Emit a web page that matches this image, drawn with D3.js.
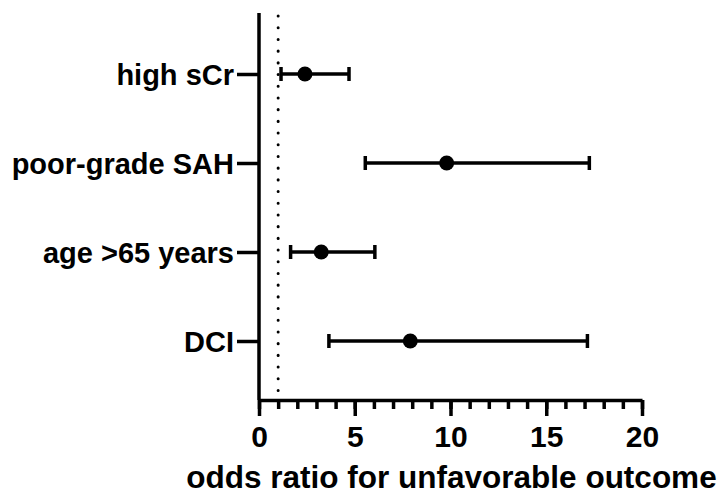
<!DOCTYPE html>
<html>
<head>
<meta charset="utf-8">
<script src="https://cdn.jsdelivr.net/npm/d3@7"></script>
<style>
  body { margin: 0; background: #fff; }
  svg { display: block; }
  text { font-family: "Liberation Sans", Arial, sans-serif; font-weight: bold; fill: #000; }
</style>
</head>
<body>
<div id="chart"></div>
<script>
// odds ratios with 95% CI
var factors = ["high sCr", "poor-grade SAH", "age >65 years", "DCI"];
var oddsRatio = [2.4, 9.8, 3.25, 7.9];
var ciLow = [1.15, 5.55, 1.65, 3.65];
var ciHigh = [4.7, 17.25, 6.05, 17.15];
var majorTicks = [0, 5, 10, 15, 20];
var minorTicks = d3.range(0, 21);
var refLine = 1;

var width = 721, height = 499;
var margin = {top: 13, right: 79, bottom: 100, left: 259};

var svg = d3.select("#chart").append("svg")
    .attr("width", width)
    .attr("height", height);

var x = d3.scaleLinear()
    .domain([0, 20])
    .range([margin.left, width - margin.right]);

var y = d3.scalePoint()
    .domain(factors)
    .range([74, 341]);

var axisY = height - margin.bottom + 1;

// dotted reference line at OR = 1
svg.append("line")
    .attr("x1", x(refLine)).attr("x2", x(refLine))
    .attr("y1", margin.top + 3).attr("y2", axisY)
    .attr("stroke", "#000")
    .attr("stroke-width", 3)
    .attr("stroke-linecap", "round")
    .attr("stroke-dasharray", "0.1,11.6");

// minor ticks
svg.append("g")
    .attr("transform", "translate(0," + axisY + ")")
    .call(d3.axisBottom(x).tickValues(minorTicks).tickSize(9).tickSizeOuter(0).tickFormat(""))
    .call(g => g.select(".domain").remove())
    .call(g => g.selectAll("line").attr("stroke-width", 3.5));

// major ticks + labels
svg.append("g")
    .attr("transform", "translate(0," + axisY + ")")
    .call(d3.axisBottom(x).tickValues(majorTicks).tickSize(16).tickSizeOuter(0).tickPadding(8))
    .call(g => g.select(".domain").attr("stroke-width", 3.5))
    .call(g => g.selectAll("line").attr("stroke-width", 3.5))
    .call(g => g.selectAll("text").attr("font-size", 30).attr("dy", "0.75em"));

// y axis
svg.append("g")
    .attr("transform", "translate(" + margin.left + ",0)")
    .call(d3.axisLeft(y).tickSize(22).tickSizeOuter(0).tickPadding(3))
    .call(g => g.select(".domain").attr("d", "M0," + margin.top + "V" + axisY).attr("stroke-width", 3.5))
    .call(g => g.selectAll("line").attr("stroke-width", 3.5))
    .call(g => g.selectAll("text").attr("font-size", 29).attr("dy", "0.35em"));

// error bars
var rows = factors.map((f, i) => ({f: f, or: oddsRatio[i], lo: ciLow[i], hi: ciHigh[i]}));

var bars = svg.append("g").selectAll("g")
    .data(rows)
    .enter().append("g");

bars.append("line")
    .attr("x1", d => x(d.lo)).attr("x2", d => x(d.hi))
    .attr("y1", d => y(d.f)).attr("y2", d => y(d.f))
    .attr("stroke", "#000").attr("stroke-width", 3.5);

bars.append("line")
    .attr("x1", d => x(d.lo)).attr("x2", d => x(d.lo))
    .attr("y1", d => y(d.f) - 7).attr("y2", d => y(d.f) + 7)
    .attr("stroke", "#000").attr("stroke-width", 3.5);

bars.append("line")
    .attr("x1", d => x(d.hi)).attr("x2", d => x(d.hi))
    .attr("y1", d => y(d.f) - 7).attr("y2", d => y(d.f) + 7)
    .attr("stroke", "#000").attr("stroke-width", 3.5);

bars.append("circle")
    .attr("cx", d => x(d.or))
    .attr("cy", d => y(d.f))
    .attr("r", 7.5)
    .attr("fill", "#000");

// x axis title
svg.append("text")
    .attr("x", (185 + 718) / 2)
    .attr("y", 488)
    .attr("text-anchor", "middle")
    .attr("font-size", 31.5)
    .text("odds ratio for unfavorable outcome");
</script>
</body>
</html>
